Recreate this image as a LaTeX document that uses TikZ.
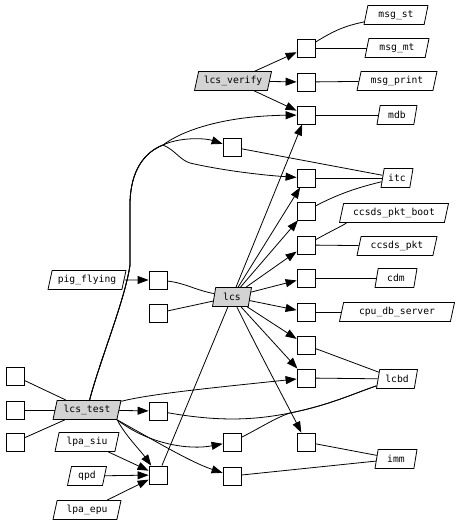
\documentclass[tikz,border=0pt]{standalone}
\usepackage{fontspec}
\setmonofont{DejaVu Sans Mono}
\usetikzlibrary{shapes.geometric,arrows.meta}
\definecolor{lg}{HTML}{D3D3D3}
\begin{document}
\begin{tikzpicture}[x=1pt,y=-1pt,
 every node/.style={font=\ttfamily\fontsize{9.7}{10}\selectfont},
 box/.style={draw, rectangle, minimum size=18pt, inner sep=0pt, line width=0.8pt},
 para/.style={draw, trapezium, trapezium left angle=67, trapezium right angle=113,
   trapezium stretches body, minimum height=19pt, minimum width=#1, inner sep=0pt, line width=0.8pt},
 gpara/.style={para=#1, fill=lg},
 ln/.style={line width=0.8pt},
 arr/.style={ln, -{Triangle[length=11pt,width=8pt]}}]
\useasboundingbox (0,0) rectangle (458,524);
% boxes
\node[box] (b1) at (306,48) {};
\node[box] (b2) at (306,82) {};
\node[box] (b3) at (306,115) {};
\node[box] (bi0) at (232,147) {};
\node[box] (bi1) at (306,178) {};
\node[box] (bi2) at (306,211) {};
\node[box] (bc) at (306,245) {};
\node[box] (bcdm) at (306,278) {};
\node[box] (bcpu) at (306,312) {};
\node[box] (bl1) at (306,345) {};
\node[box] (bl2) at (306,378) {};
\node[box] (bm0) at (306,442) {};
\node[box] (bm1) at (232,442) {};
\node[box] (bm2) at (232,476) {};
\node[box] (bpig) at (158,280) {};
\node[box] (bls) at (158,313) {};
\node[box] (bt) at (158,411) {};
\node[box] (bq) at (158,475) {};
\node[box] (l1) at (15,376) {};
\node[box] (l2) at (15,410) {};
\node[box] (l3) at (15,442) {};
% parallelograms
\node[para=64pt] (msgst) at (396,15) {msg\_st};
\node[para=64pt] (msgmt) at (397,48) {msg\_mt};
\node[para=80pt] (msgprint) at (397,81) {msg\_print};
\node[para=40pt] (mdb) at (397,115) {mdb};
\node[gpara=77pt] (lcsverify) at (233,81) {lcs\_verify};
\node[para=32pt] (itc) at (397,178) {itc};
\node[para=109pt] (boot) at (394,213) {ccsds\_pkt\_boot};
\node[para=80pt] (pkt) at (397,246) {ccsds\_pkt};
\node[para=42pt] (cdm) at (396,278) {cdm};
\node[para=115pt] (cpu) at (397,312) {cpu\_db\_server};
\node[para=41pt] (lcbd) at (397,379) {lcbd};
\node[para=42pt] (imm) at (396,459) {imm};
\node[gpara=39pt] (lcs) at (232,297) {lcs};
\node[para=78pt] (pig) at (87,280) {pig\_flying};
\node[gpara=68pt] (lcstest) at (87,410) {lcs\_test};
\node[para=64pt] (lpasiu) at (87,442) {lpa\_siu};
\node[para=39pt] (qpd) at (87,476) {qpd};
\node[para=68pt] (lpaepu) at (87,510) {lpa\_epu};
% lcs_verify
\draw[arr] (lcsverify) -- (b1);
\draw[arr] (lcsverify) -- (b2);
\draw[arr] (lcsverify) -- (b3);
\draw[ln] (b1) .. controls (335,30) and (345,26) .. (msgst);
\draw[ln] (b1) -- (msgmt);
\draw[ln] (b2) -- (msgprint);
\draw[ln] (b3) -- (mdb);
% lcs_test trunk
\draw[arr] (lcstest) .. controls (100,360) and (125,300) .. (130,265) -- (130,205)
  .. controls (130,170) and (145,152) .. (163,145) .. controls (180,132) and (220,116) .. (b3);
\draw[arr] (lcstest) .. controls (100,360) and (125,300) .. (130,265) -- (130,205)
  .. controls (130,170) and (145,152) .. (163,145) .. controls (180,137) and (205,138) .. (bi0);
\draw[arr] (lcstest) .. controls (100,360) and (125,300) .. (130,265) -- (130,205)
  .. controls (130,170) and (145,152) .. (163,145) .. controls (175,150) and (180,160) .. (190,163)
  .. controls (220,170) and (260,175) .. (bi1);
% lcs
\draw[arr] (lcs) -- (b3);
\draw[arr] (lcs) -- (bi1);
\draw[arr] (lcs) -- (bi2);
\draw[arr] (lcs) -- (bc);
\draw[arr] (lcs) -- (bcdm);
\draw[arr] (lcs) -- (bcpu);
\draw[arr] (lcs) -- (bl1);
\draw[arr] (lcs) -- (bl2);
\draw[arr] (lcs) .. controls (258,350) and (290,410) .. (bm0);
\draw[ln] (lcs) -- (bq);
\draw[ln] (bpig) .. controls (185,283) and (195,290) .. (lcs);
\draw[ln] (bls) -- (lcs);
\draw[arr] (pig) -- (bpig);
% lcs_test
\draw[ln] (l1) -- (lcstest);
\draw[ln] (l2) -- (lcstest);
\draw[ln] (l3) -- (lcstest);
\draw[arr] (lcstest) -- (bt);
\draw[arr] (lcstest) .. controls (150,394) and (210,388) .. (bl2);
\draw[arr] (lcstest.bottom right corner) .. controls (125,435) and (140,450) .. (bq);
\draw[arr] (lcstest.bottom right corner) .. controls (150,445) and (190,450) .. (bm1);
\draw[arr] (lcstest.bottom right corner) .. controls (150,438) and (190,462) .. (bm2);
\draw[ln] (bt) .. controls (220,422) and (255,420) .. (290,413) .. controls (330,405) and (355,393) .. (lcbd);
\draw[ln] (bm1) .. controls (260,428) and (275,418) .. (290,413) .. controls (330,405) and (355,393) .. (lcbd);
\draw[ln] (bm0) -- (imm);
\draw[ln] (bm2) -- (imm);
\draw[arr] (lpasiu) -- (bq);
\draw[arr] (qpd) -- (bq);
\draw[arr] (lpaepu) -- (bq);
% right side
\draw[ln] (bi0) -- (itc);
\draw[ln] (bi1) -- (itc);
\draw[ln] (bi2) .. controls (340,193) and (360,187) .. (itc);
\draw[ln] (bc) .. controls (333,230) and (350,222) .. (boot);
\draw[ln] (bc) -- (pkt);
\draw[ln] (bcdm) -- (cdm);
\draw[ln] (bcpu) -- (cpu);
\draw[ln] (bl1) -- (lcbd);
\draw[ln] (bl2) -- (lcbd);
\end{tikzpicture}
\end{document}
